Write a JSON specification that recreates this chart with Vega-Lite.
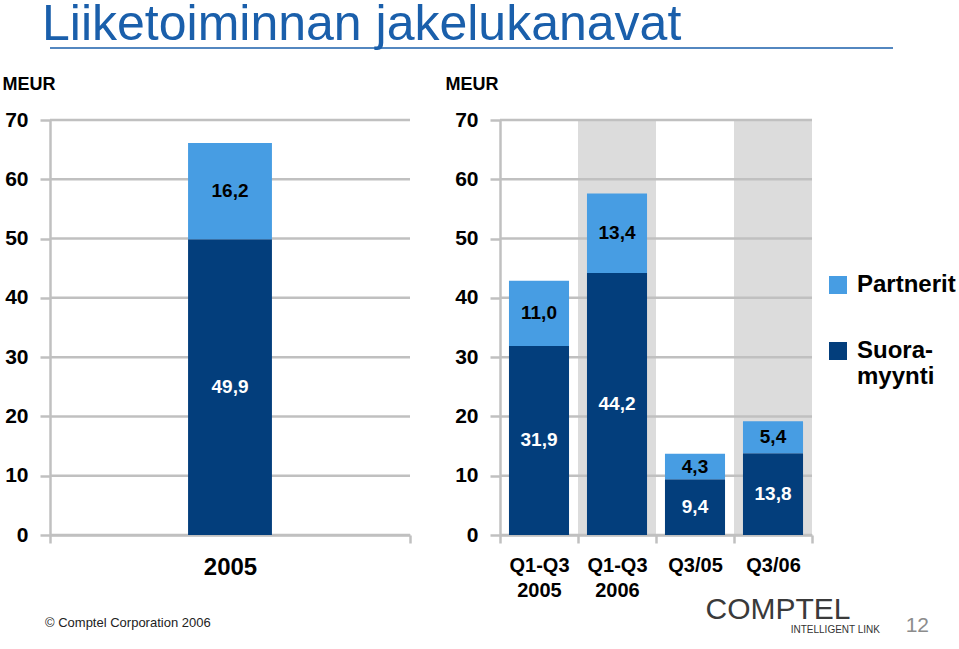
{
  "$schema": "https://vega.github.io/schema/vega-lite/v6.json",
  "padding": {"left": 2, "top": 0, "right": 0, "bottom": 0},
  "background": "white",
  "config": {
    "font": "Liberation Sans",
    "view": {"stroke": null},
    "axisX": {
      "labelAngle": 0, "labelFontSize": 20, "labelFontWeight": "bold", "labelColor": "#000000",
      "labelPadding": 12, "tickBand": "extent", "tickSize": 8, "tickColor": "#c0c0c0", "tickWidth": 2.5,
      "domainColor": "#c0c0c0", "domainWidth": 2.5, "grid": false
    }
  },
  "datasets": {
    "annual": [
      {"period": "2005", "series": "Suoramyynti", "value": 49.9},
      {"period": "2005", "series": "Partnerit", "value": 16.2}
    ],
    "quarterly": [
      {"period": "Q1-Q3 2005", "series": "Suoramyynti", "value": 31.9},
      {"period": "Q1-Q3 2005", "series": "Partnerit", "value": 11.0},
      {"period": "Q1-Q3 2006", "series": "Suoramyynti", "value": 44.2},
      {"period": "Q1-Q3 2006", "series": "Partnerit", "value": 13.4},
      {"period": "Q3/05", "series": "Suoramyynti", "value": 9.4},
      {"period": "Q3/05", "series": "Partnerit", "value": 4.3},
      {"period": "Q3/06", "series": "Suoramyynti", "value": 13.8},
      {"period": "Q3/06", "series": "Partnerit", "value": 5.4}
    ],
    "grid": [{"v": 0}, {"v": 10}, {"v": 20}, {"v": 30}, {"v": 40}, {"v": 50}, {"v": 60}, {"v": 70}],
    "shade": [{"period": "Q1-Q3 2006"}, {"period": "Q3/06"}]
  },
  "title": {
    "text": "12", "orient": "bottom", "anchor": "end", "frame": "bounds",
    "fontSize": 21, "fontWeight": "normal", "color": "#8c8c8c",
    "baseline": "top", "offset": -20, "dx": -27
  },
  "spacing": 24,
  "vconcat": [
    {
      "width": 843,
      "height": 1,
      "data": {"values": [{}]},
      "title": {
        "text": "Liiketoiminnan jakelukanavat", "anchor": "start", "frame": "group",
        "fontSize": 50, "fontWeight": "normal", "color": "#1a5fab",
        "baseline": "alphabetic", "offset": -43, "dx": -8
      },
      "mark": {"type": "rule", "color": "#1a5fab", "strokeWidth": 1.5},
      "encoding": {
        "y": {"datum": 1, "type": "quantitative", "scale": {"domain": [0, 1]}, "axis": null}
      }
    },
    {
      "spacing": 33,
      "resolve": {"scale": {"color": "independent"}, "legend": {"color": "independent"}},
      "hconcat": [
        {
          "width": 360,
          "height": 415,
          "title": {
            "text": "© Comptel Corporation 2006", "orient": "bottom", "anchor": "start", "frame": "group",
            "fontSize": 13, "fontWeight": "normal", "color": "#222222", "baseline": "top", "offset": 38, "dx": -5
          },
          "layer": [
            {
              "data": {"name": "grid"},
              "mark": {"type": "rule", "color": "#c0c0c0", "strokeWidth": 2.5},
              "encoding": {
                "y": {
                  "field": "v", "type": "quantitative", "title": "MEUR", "scale": {"domain": [0, 70], "nice": false},
                  "axis": {
                    "titleAngle": 0, "titleAnchor": "end", "titleAlign": "left", "titleBaseline": "alphabetic",
                    "titleX": -48, "titleY": -31, "titleFontSize": 18, "titleFontWeight": "bold", "titleColor": "#000000",
                    "values": [0, 10, 20, 30, 40, 50, 60, 70], "grid": false,
                    "labelFontSize": 21, "labelFontWeight": "bold", "labelColor": "#000000", "labelPadding": 12,
                    "tickSize": 10, "tickColor": "#c0c0c0", "tickWidth": 2.5,
                    "domainColor": "#c0c0c0", "domainWidth": 2.5
                  }
                }
              }
            },
            {
              "data": {"name": "annual"},
              "transform": [
                {"stack": "value", "groupby": ["period"], "sort": [{"field": "series", "order": "descending"}], "as": ["v0", "v1"]}
              ],
              "mark": {"type": "bar", "width": {"band": 0.233}},
              "encoding": {
                "x": {
                  "field": "period", "type": "nominal", "title": null, "scale": {"paddingInner": 0, "paddingOuter": 0},
                  "axis": {"labelFontSize": 24}
                },
                "y": {"field": "v1", "type": "quantitative", "title": "MEUR"},
                "y2": {"field": "v0"},
                "color": {
                  "field": "series", "type": "nominal",
                  "scale": {"domain": ["Partnerit", "Suoramyynti"], "range": ["#479de3", "#033e7c"]},
                  "legend": null
                }
              }
            },
            {
              "data": {"name": "annual"},
              "transform": [
                {"stack": "value", "groupby": ["period"], "sort": [{"field": "series", "order": "descending"}], "as": ["v0", "v1"]},
                {"calculate": "(datum.v0 + datum.v1) / 2", "as": "mid"},
                {"calculate": "replace(format(datum.value, '.1f'), '.', ',')", "as": "lbl"}
              ],
              "mark": {"type": "text", "fontSize": 19, "fontWeight": "bold", "baseline": "middle"},
              "encoding": {
                "x": {"field": "period", "type": "nominal", "title": null},
                "y": {"field": "mid", "type": "quantitative", "title": "MEUR"},
                "text": {"field": "lbl"},
                "color": {"condition": {"test": "datum.series === 'Suoramyynti'", "value": "#ffffff"}, "value": "#000000"}
              }
            }
          ]
        },
        {
          "width": 312,
          "height": 415,
          "title": {
            "text": "INTELLIGENT LINK", "orient": "bottom", "anchor": "end", "frame": "group",
            "fontSize": 10, "fontWeight": "normal", "color": "#333333", "baseline": "top", "offset": 1, "dx": 68
          },
          "layer": [
            {
              "data": {"name": "shade"},
              "mark": {"type": "bar", "color": "#dcdcdc", "width": {"band": 1}},
              "encoding": {
                "x": {
                  "field": "period", "type": "nominal", "title": "COMPTEL",
                  "scale": {"domain": ["Q1-Q3 2005", "Q1-Q3 2006", "Q3/05", "Q3/06"], "paddingInner": 0, "paddingOuter": 0}
                }
              }
            },
            {
              "data": {"name": "grid"},
              "mark": {"type": "rule", "color": "#c0c0c0", "strokeWidth": 2.5},
              "encoding": {
                "y": {
                  "field": "v", "type": "quantitative", "title": "MEUR", "scale": {"domain": [0, 70], "nice": false},
                  "axis": {
                    "titleAngle": 0, "titleAnchor": "end", "titleAlign": "left", "titleBaseline": "alphabetic",
                    "titleX": -55, "titleY": -31, "titleFontSize": 18, "titleFontWeight": "bold", "titleColor": "#000000",
                    "values": [0, 10, 20, 30, 40, 50, 60, 70], "grid": false,
                    "labelFontSize": 21, "labelFontWeight": "bold", "labelColor": "#000000", "labelPadding": 12,
                    "tickSize": 10, "tickColor": "#c0c0c0", "tickWidth": 2.5,
                    "domainColor": "#c0c0c0", "domainWidth": 2.5
                  }
                }
              }
            },
            {
              "data": {"name": "quarterly"},
              "transform": [
                {"stack": "value", "groupby": ["period"], "sort": [{"field": "series", "order": "descending"}], "as": ["v0", "v1"]}
              ],
              "mark": {"type": "bar", "width": {"band": 0.77}},
              "encoding": {
                "x": {
                  "field": "period", "type": "nominal", "title": "COMPTEL",
                  "axis": {
                    "titleX": 205, "titleY": 83, "titleAlign": "left", "titleBaseline": "alphabetic",
                    "titleFontSize": 30, "titleFontWeight": "normal", "titleColor": "#3a3a3a",
                    "labelExpr": "split(datum.label, ' ')", "labelLineHeight": 25
                  }
                },
                "y": {"field": "v1", "type": "quantitative", "title": "MEUR"},
                "y2": {"field": "v0"},
                "color": {
                  "field": "series", "type": "nominal",
                  "scale": {"domain": ["Partnerit", "Suoramyynti"], "range": ["#479de3", "#033e7c"]},
                  "legend": {
                    "title": null, "orient": "none", "legendX": 326, "legendY": 153, "padding": 0,
                    "symbolType": "square", "symbolSize": 324, "symbolStrokeWidth": 0,
                    "labelFontSize": 24, "labelFontWeight": "bold", "labelColor": "#000000", "labelLimit": 200,
                    "labelOffset": 7, "rowPadding": 42,
                    "labelExpr": "datum.label == 'Suoramyynti' ? ['Suora-', 'myynti'] : datum.label"
                  }
                }
              }
            },
            {
              "data": {"name": "quarterly"},
              "transform": [
                {"stack": "value", "groupby": ["period"], "sort": [{"field": "series", "order": "descending"}], "as": ["v0", "v1"]},
                {"calculate": "(datum.v0 + datum.v1) / 2", "as": "mid"},
                {"calculate": "replace(format(datum.value, '.1f'), '.', ',')", "as": "lbl"}
              ],
              "mark": {"type": "text", "fontSize": 19, "fontWeight": "bold", "baseline": "middle"},
              "encoding": {
                "x": {"field": "period", "type": "nominal", "title": "COMPTEL"},
                "y": {"field": "mid", "type": "quantitative", "title": "MEUR"},
                "text": {"field": "lbl"},
                "color": {"condition": {"test": "datum.series === 'Suoramyynti'", "value": "#ffffff"}, "value": "#000000"}
              }
            }
          ]
        }
      ]
    }
  ]
}
